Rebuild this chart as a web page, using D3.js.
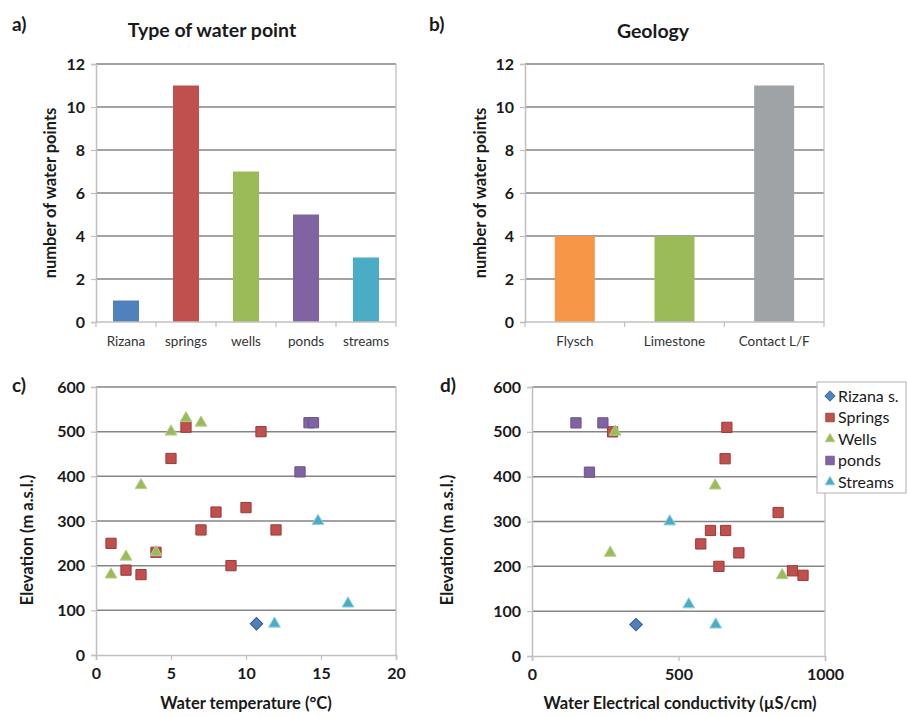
<!DOCTYPE html>
<html><head><meta charset="utf-8">
<script src="https://cdn.jsdelivr.net/npm/d3@7"></script>
<style>
body{margin:0;background:#fff;}
svg{display:block;font-family:Lato,"Open Sans",sans-serif;}
</style></head>
<body>
<svg id="c" width="908" height="716"></svg>
<script>
// ---- data ----
const typeCats = ["Rizana","springs","wells","ponds","streams"];
const typeCounts = [1,11,7,5,3];
const typeColors = ["#4F81BD","#C0504D","#9BBB59","#8064A2","#4BACC6"];

const geoCats = ["Flysch","Limestone","Contact L/F"];
const geoCounts = [4,4,11];
const geoColors = ["#F79646","#9BBB59","#A0A3A6"];

const barTicks = [0,2,4,6,8,10,12];
const elevTicks = [0,100,200,300,400,500,600];
const tempTicks = [0,5,10,15,20];
const ecTicks = [0,500,1000];

const seriesNames = ["Rizana s.","Springs","Wells","ponds","Streams"];

const rizanaTemp = [10.7];  const rizanaElevT = [70];
const springsTemp = [1,2,3,4,5,6,7,8,9,10,11,12];
const springsElevT = [250,190,180,230,440,510,280,320,200,330,500,280];
const wellsTemp = [1,2,3,4,5,6,7];
const wellsElevT = [180,220,380,230,500,530,520];
const pondsTemp = [14.2,14.5,13.6];
const pondsElevT = [520,520,410];
const streamsTemp = [11.9,14.8,16.8];
const streamsElevT = [70,300,115];

const rizanaEC = [355];  const rizanaElevE = [70];
const springsEC = [665,659,609,661,576,706,638,840,889,925,275];
const springsElevE = [510,440,280,280,250,230,200,320,190,180,500];
const wellsEC = [284,267,625,854];
const wellsElevE = [500,230,380,180];
const pondsEC = [150,242,196];
const pondsElevE = [520,520,410];
const streamsEC = [470,535,627];
const streamsElevE = [300,115,70];

// ---- drawing ----
const svg = d3.select("#c");
const gridCol = "#858585", borderCol = "#c0c0c0", textCol = "#1a1a1a";
const FONT = "Lato,'Open Sans',sans-serif";

function frame(x0,x1,y0,y1,ys,yt){
  const g = svg.append("g");
  yt.forEach(t=>{ if(t===0) return;
    g.append("line").attr("x1",x0).attr("x2",x1).attr("y1",ys(t)).attr("y2",ys(t))
     .attr("stroke",gridCol).attr("stroke-width",1.5);
  });
  g.append("line").attr("x1",x1).attr("x2",x1).attr("y1",y0).attr("y2",y1).attr("stroke",borderCol).attr("stroke-width",1.3);
  const ya = svg.append("g").attr("transform",`translate(${x0},0)`)
     .call(d3.axisLeft(ys).tickValues(yt).tickSize(5).tickPadding(6).tickFormat(d3.format("d")));
  ya.select(".domain").attr("stroke",borderCol).attr("stroke-width",1.5);
  ya.selectAll(".tick line").attr("stroke",borderCol).attr("stroke-width",1.2);
  ya.selectAll("text").attr("font-size",16).attr("font-weight","bold").attr("fill",textCol)
     .attr("font-family",FONT);
  return g;
}

function barPanel(x0,x1,y0,y1,cats,vals,cols,barW){
  const ys = d3.scaleLinear().domain([0,12]).range([y1,y0]);
  const xs = d3.scaleBand().domain(cats).range([x0,x1]);
  frame(x0,x1,y0,y1,ys,barTicks);
  svg.append("g").selectAll("rect").data(cats).join("rect")
    .attr("x",d=>xs(d)+xs.bandwidth()/2-barW/2).attr("width",barW)
    .attr("y",(d,i)=>ys(vals[i])).attr("height",(d,i)=>y1-ys(vals[i]))
    .attr("fill",(d,i)=>cols[i]);
  const xa = svg.append("g").attr("transform",`translate(0,${y1})`);
  xa.append("line").attr("x1",x0).attr("x2",x1).attr("stroke",borderCol).attr("stroke-width",1.6);
  const edges = cats.map(c=>xs(c)).concat([x1]);
  xa.selectAll("line.tk").data(edges).join("line").attr("class","tk")
    .attr("x1",d=>d).attr("x2",d=>d).attr("y1",0).attr("y2",5).attr("stroke",borderCol).attr("stroke-width",1.2);
  xa.selectAll("text").data(cats).join("text")
    .attr("x",d=>xs(d)+xs.bandwidth()/2).attr("y",24).attr("text-anchor","middle")
    .attr("font-size",13.5).attr("fill","#333").text(d=>d);
  return {ys,xs};
}

function label(x,y,t,size,opts={}){
  const el = svg.append("text").attr("x",x).attr("y",y).attr("font-size",size)
    .attr("font-weight",opts.w||"bold").attr("fill",textCol).attr("text-anchor",opts.a||"middle").text(t);
  if(opts.rot) el.attr("transform",`rotate(-90,${x},${y})`);
  return el;
}

// panel a
barPanel(96,396,64,322,typeCats,typeCounts,typeColors,26);
label(12,31,"a)",19,{a:"start"});
label(212,37,"Type of water point",19.5);
label(56,193,"number of water points",16.5,{rot:true});

// panel b
barPanel(525,824,64,322,geoCats,geoCounts,geoColors,40);
label(429,31,"b)",19,{a:"start"});
label(653,38,"Geology",19.5);
label(486,193,"number of water points",16.5,{rot:true});

// scatter panels
const markerDefs = [
  {type:d3.symbolSquare, size:78, fill:"#4F81BD", stroke:"#2f5a8c", rot:45},
  {type:d3.symbolSquare, size:105, fill:"#C0504D", stroke:"#9a3b39", rot:0},
  {type:d3.symbolTriangle, size:60, fill:"#9BBB59", stroke:"#b5d08a", rot:0},
  {type:d3.symbolSquare, size:105, fill:"#8064A2", stroke:"#6b5290", rot:0},
  {type:d3.symbolTriangle, size:60, fill:"#4BACC6", stroke:"#8fd0e0", rot:0}
];

function scatterPanel(x0,x1,y0,y1,xdom,xt,series){
  const ys = d3.scaleLinear().domain([0,600]).range([y1,y0]);
  const xs = d3.scaleLinear().domain(xdom).range([x0,x1]);
  frame(x0,x1,y0,y1,ys,elevTicks);
  const xa = svg.append("g").attr("transform",`translate(0,${y1})`)
    .call(d3.axisBottom(xs).tickValues(xt).tickSize(5).tickPadding(8).tickFormat(d3.format("d")));
  xa.select(".domain").attr("stroke",borderCol).attr("stroke-width",1.6);
  xa.selectAll(".tick line").attr("stroke",borderCol).attr("stroke-width",1.2);
  xa.selectAll("text").attr("font-size",16).attr("font-weight","bold").attr("fill",textCol)
     .attr("font-family",FONT);
  series.forEach((s,si)=>{
    const m = markerDefs[si];
    svg.append("g").selectAll("path").data(s.x.map((v,i)=>[v,s.y[i]])).join("path")
      .attr("d",d3.symbol().type(m.type).size(m.size))
      .attr("transform",d=>`translate(${xs(d[0])},${ys(d[1])}) rotate(${m.rot})`)
      .attr("fill",m.fill).attr("stroke",m.stroke).attr("stroke-width",1);
  });
}

scatterPanel(96,396,387,655,[0,20],tempTicks,[
  {x:rizanaTemp,y:rizanaElevT},{x:springsTemp,y:springsElevT},{x:wellsTemp,y:wellsElevT},
  {x:pondsTemp,y:pondsElevT},{x:streamsTemp,y:streamsElevT}]);
label(12,392,"c)",19,{a:"start"});
label(246,709,"Water temperature (°C)",16.5);
label(33,540,"Elevation (m a.s.l.)",16.5,{rot:true});

scatterPanel(532,825,387,656,[0,1000],ecTicks,[
  {x:rizanaEC,y:rizanaElevE},{x:springsEC,y:springsElevE},{x:wellsEC,y:wellsElevE},
  {x:pondsEC,y:pondsElevE},{x:streamsEC,y:streamsElevE}]);
label(440,392,"d)",19,{a:"start"});
label(680,709,"Water Electrical conductivity (µS/cm)",16.5);
label(453,540,"Elevation (m a.s.l.)",16.5,{rot:true});

// legend
const lg = svg.append("g");
lg.append("rect").attr("x",817).attr("y",382).attr("width",89).attr("height",111)
  .attr("fill","#fff").attr("stroke","#b0b0b0").attr("stroke-width",1);
seriesNames.forEach((n,i)=>{
  const y = 396 + i*21.5;
  const m = markerDefs[i];
  lg.append("path").attr("d",d3.symbol().type(m.type).size(m.size*0.7))
    .attr("transform",`translate(830,${y}) rotate(${m.rot})`).attr("fill",m.fill).attr("stroke",m.stroke).attr("stroke-width",0.8);
  lg.append("text").attr("x",838).attr("y",y+5.5).attr("font-size",16).attr("fill",textCol).text(n);
});
</script>
</body></html>
